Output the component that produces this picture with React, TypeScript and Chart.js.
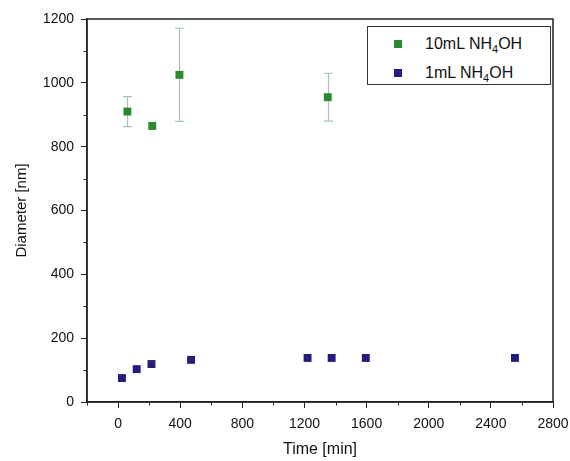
import React, { useEffect, useRef } from "react";
import { Chart, registerables } from "chart.js";

Chart.register(...registerables);

// ---- data ----
const xTicks = [0, 400, 800, 1200, 1600, 2000, 2400, 2800];
const yTicks = [0, 200, 400, 600, 800, 1000, 1200];

const green10mLTime = [60, 220, 395, 1350];
const green10mLDiameter = [910, 865, 1025, 955];
const green10mLError = [47, 0, 146, 75];

const blue1mLTime = [25, 120, 215, 470, 1220, 1375, 1595, 2555];
const blue1mLDiameter = [75, 103, 119, 132, 138, 138, 138, 138];

const GREEN = "#2a8a30";
const BLUE = "#251d7e";
const FONT = "'Liberation Sans', Arial, sans-serif";

const originStylePlugin = {
  id: "originStyle",
  beforeDatasetsDraw(chart: any) {
    const { ctx, scales } = chart;
    const xs = scales.x;
    const ys = scales.y;
    ctx.save();
    ctx.strokeStyle = "#a3c3bb";
    ctx.lineWidth = 1.2;
    green10mLTime.forEach((t, i) => {
      const e = green10mLError[i];
      if (!e) return;
      const px = Math.round(xs.getPixelForValue(t)) + 0.5;
      const top = ys.getPixelForValue(green10mLDiameter[i] + e);
      const bot = ys.getPixelForValue(green10mLDiameter[i] - e);
      ctx.beginPath();
      ctx.moveTo(px, top);
      ctx.lineTo(px, bot);
      ctx.moveTo(px - 4.5, top);
      ctx.lineTo(px + 4.5, top);
      ctx.moveTo(px - 4.5, bot);
      ctx.lineTo(px + 4.5, bot);
      ctx.stroke();
    });
    ctx.restore();
  },
  afterDraw(chart: any) {
    const { ctx, chartArea, scales } = chart;
    const xs = scales.x;
    const ys = scales.y;
    ctx.save();
    ctx.strokeStyle = "#222";
    ctx.lineWidth = 1.5;
    ctx.strokeRect(chartArea.left, chartArea.top, chartArea.right - chartArea.left, chartArea.bottom - chartArea.top);
    ctx.lineWidth = 1;
    ctx.beginPath();
    for (let i = 0; i < xTicks.length; i++) {
      const v = xTicks[i] - 200;
      const px = Math.round(xs.getPixelForValue(v)) + 0.5;
      ctx.moveTo(px, chartArea.bottom);
      ctx.lineTo(px, chartArea.bottom + 3.5);
    }
    for (let i = 0; i < yTicks.length - 1; i++) {
      const v = yTicks[i] + 100;
      const py = Math.round(ys.getPixelForValue(v)) + 0.5;
      ctx.moveTo(chartArea.left, py);
      ctx.lineTo(chartArea.left - 3.5, py);
    }
    ctx.stroke();
    ctx.restore();
  },
};

export default function App() {
  const canvasRef = useRef<HTMLCanvasElement | null>(null);

  useEffect(() => {
    const canvas = canvasRef.current;
    if (!canvas) return;
    const chart = new Chart(canvas, {
      type: "scatter",
      data: {
        datasets: [
          {
            label: "10mL NH4OH",
            data: green10mLTime.map((t, i) => ({ x: t, y: green10mLDiameter[i] })),
            backgroundColor: GREEN,
            borderColor: GREEN,
            borderWidth: 0,
            pointStyle: "rect",
            pointRadius: 5.6,
          },
          {
            label: "1mL NH4OH",
            data: blue1mLTime.map((t, i) => ({ x: t, y: blue1mLDiameter[i] })),
            backgroundColor: BLUE,
            borderColor: BLUE,
            borderWidth: 0,
            pointStyle: "rect",
            pointRadius: 5.6,
          },
        ],
      },
      options: {
        responsive: false,
        animation: false,
        devicePixelRatio: 1,
        layout: { padding: { top: 19, right: 17, left: 0, bottom: 0 } },
        plugins: {
          legend: { display: false },
          tooltip: { enabled: false },
        },
        scales: {
          x: {
            type: "linear",
            min: -200,
            max: 2800,
            afterBuildTicks: (scale: any) => {
              scale.ticks = xTicks.map((v) => ({ value: v }));
            },
            afterFit: (scale: any) => {
              scale.height = 59;
              scale.paddingLeft = 0;
              scale.paddingRight = 0;
            },
            grid: {
              drawOnChartArea: false,
              drawTicks: true,
              tickLength: 6,
              tickColor: "#222",
              tickWidth: 1,
            },
            border: { display: true, color: "#222", width: 1.5 },
            ticks: {
              color: "#111",
              padding: 8,
              maxRotation: 0,
              autoSkip: false,
              font: { family: FONT, size: 14 },
              callback: (v: any) => String(v),
            },
            title: {
              display: true,
              text: "Time [min]",
              color: "#111",
              font: { family: FONT, size: 16 },
              padding: { top: 0, bottom: 2 },
            },
          },
          y: {
            type: "linear",
            min: 0,
            max: 1200,
            afterBuildTicks: (scale: any) => {
              scale.ticks = yTicks.map((v) => ({ value: v }));
            },
            afterFit: (scale: any) => {
              scale.width = 87;
              scale.paddingTop = 0;
              scale.paddingBottom = 0;
            },
            grid: {
              drawOnChartArea: false,
              drawTicks: true,
              tickLength: 6,
              tickColor: "#222",
              tickWidth: 1,
            },
            border: { display: true, color: "#222", width: 1.5 },
            ticks: {
              color: "#111",
              padding: 7,
              autoSkip: false,
              font: { family: FONT, size: 14 },
              callback: (v: any) => String(v),
            },
            title: {
              display: true,
              text: "Diameter [nm]",
              color: "#111",
              font: { family: FONT, size: 15 },
              padding: { top: 13, bottom: 0 },
            },
          },
        },
      },
      plugins: [originStylePlugin],
    });
    return () => chart.destroy();
  }, []);

  const legendRow = (color: string, label: string, top: number) => (
    <div style={{ position: "absolute", left: 0, top, height: 20, width: "100%" }}>
      <div
        style={{
          position: "absolute",
          left: 26,
          top: 6,
          width: 8,
          height: 8,
          background: color,
        }}
      />
      <div
        style={{
          position: "absolute",
          left: 57,
          top: 0,
          fontFamily: FONT,
          fontSize: 16,
          lineHeight: "20px",
          color: "#111",
          whiteSpace: "nowrap",
        }}
      >
        {label} NH
        <sub style={{ fontSize: 11, verticalAlign: "-4px", lineHeight: 0 }}>4</sub>
        OH
      </div>
    </div>
  );

  return (
    <div style={{ position: "fixed", left: 0, top: 0, width: 570, height: 461, background: "#fff" }}>
      <canvas ref={canvasRef} width={570} height={461} style={{ display: "block" }} />
      <div
        style={{
          position: "absolute",
          left: 367,
          top: 26,
          width: 184,
          height: 59,
          border: "1.5px solid #333",
          background: "#fff",
          boxSizing: "border-box",
        }}
      >
        {legendRow(GREEN, "10mL", 7)}
        {legendRow(BLUE, "1mL", 36)}
      </div>
    </div>
  );
}
